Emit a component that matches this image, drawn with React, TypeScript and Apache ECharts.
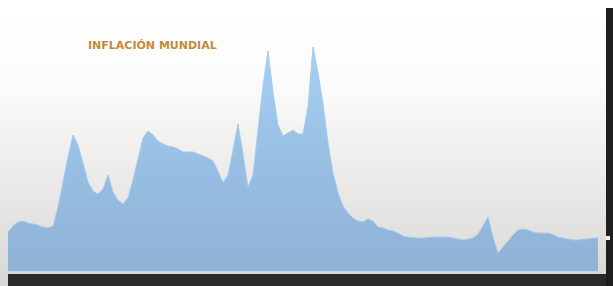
import React, { useEffect, useRef } from "react";
import * as echarts from "echarts";

const titleText = "INFLACIÓN MUNDIAL";

// sampled index (time steps) along the horizontal axis
const periods: string[] = Array.from({ length: 119 }, (_, i) => String(i + 1));

// world inflation level
const inflation: number[] = [
  3.9, 4.5, 4.9, 5.0, 4.8, 4.7, 4.6, 4.4, 4.3, 4.5,
  6.4, 8.9, 11.4, 13.6, 12.6, 10.8, 8.9, 8.0, 7.7, 8.2,
  9.6, 7.9, 7.1, 6.7, 7.3, 9.1, 11.2, 13.3, 14.0, 13.6,
  13.0, 12.7, 12.5, 12.4, 12.2, 11.9, 11.9, 11.9, 11.7, 11.5,
  11.3, 11.0, 10.0, 8.8, 9.6, 12.1, 14.7, 11.7, 8.4, 9.6,
  14.1, 18.5, 22.0, 17.8, 14.6, 13.5, 13.8, 14.1, 13.7, 13.7,
  16.4, 22.4, 19.8, 16.7, 12.8, 9.8, 7.8, 6.5, 5.8, 5.3,
  5.0, 4.9, 5.2, 5.0, 4.4, 4.3, 4.1, 4.0, 3.8, 3.5,
  3.4, 3.35, 3.3, 3.3, 3.35, 3.4, 3.4, 3.4, 3.4, 3.3,
  3.2, 3.1, 3.2, 3.3, 3.7, 4.5, 5.4, 3.4, 1.8, 2.4,
  3.0, 3.6, 4.1, 4.2, 4.1, 3.9, 3.8, 3.8, 3.8, 3.65,
  3.4, 3.3, 3.2, 3.1, 3.1, 3.2, 3.2, 3.3, 3.3,
];

export default function App() {
  const ref = useRef<HTMLDivElement>(null);

  useEffect(() => {
    if (!ref.current) return;
    const chart = echarts.init(ref.current, undefined, { renderer: "svg" });
    chart.setOption({
      animation: false,
      backgroundColor: new echarts.graphic.LinearGradient(0, 0, 0, 1, [
        { offset: 0, color: "#ffffff" },
        { offset: 0.3, color: "#fbfbfb" },
        { offset: 0.65, color: "#eae9e7" },
        { offset: 1, color: "#d9d7d4" },
      ]),
      title: {
        text: titleText,
        left: 88,
        top: 40,
        padding: 0,
        textStyle: {
          color: "#c28a3c",
          fontFamily: "'DejaVu Sans', sans-serif",
          fontWeight: "bold",
          fontSize: 11,
        },
      },
      grid: { left: 8, right: 15, top: 41, bottom: 15 },
      xAxis: {
        type: "category",
        data: periods,
        boundaryGap: false,
        axisLine: { show: true, lineStyle: { color: "#c3d8ec", width: 1.5 } },
        axisTick: { show: false },
        axisLabel: { show: false },
        splitLine: { show: false },
      },
      yAxis: {
        type: "value",
        min: 0,
        max: 23,
        show: false,
        splitLine: { show: false },
      },
      series: [
        {
          type: "line",
          data: inflation,
          symbol: "none",
          smooth: false,
          lineStyle: { width: 1, color: "#a4cbee" },
          areaStyle: {
            opacity: 1,
            color: new echarts.graphic.LinearGradient(0, 0, 0, 1, [
              { offset: 0, color: "#a8d0f4" },
              { offset: 0.5, color: "#98bfe4" },
              { offset: 1, color: "#8fb2d5" },
            ]),
          },
        },
      ],
      graphic: [
        {
          type: "rect",
          shape: { x: 8, y: 274, width: 598, height: 12 },
          style: { fill: "#2a2a2a" },
        },
        {
          type: "rect",
          shape: { x: 606, y: 8, width: 7, height: 278 },
          style: { fill: "#1e1e1e" },
        },
        {
          type: "rect",
          shape: { x: 606, y: 236, width: 4, height: 4 },
          style: { fill: "#f2f2f2" },
        },
      ],
    });
    return () => chart.dispose();
  }, []);

  return (
    <div
      ref={ref}
      style={{ position: "fixed", left: 0, top: 0, width: 613, height: 286 }}
    />
  );
}
